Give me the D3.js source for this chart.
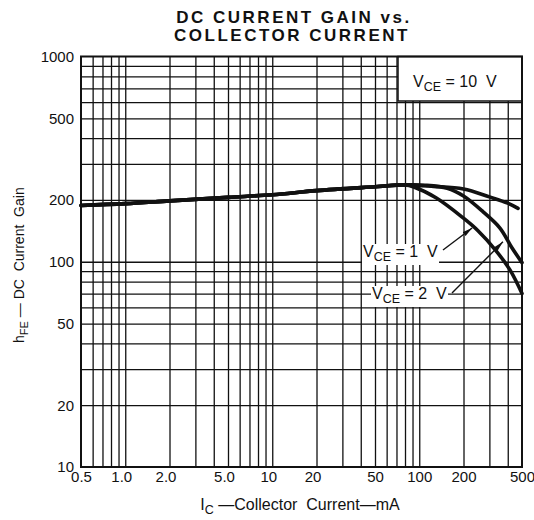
<!DOCTYPE html>
<html>
<head>
<meta charset="utf-8">
<script src="https://cdn.jsdelivr.net/npm/d3@7"></script>
<style>
  body { margin: 0; background: #fff; }
  text { font-family: "Liberation Sans", Arial, sans-serif; fill: #111; white-space: pre; }
</style>
</head>
<body>
<script>
// common part of the curve (all VCE)
var commonI = [0.5, 1, 2, 5, 10, 20, 50, 80];
var commonH = [188, 192, 198, 206, 212, 222, 232, 237];

// branches at high current (start after 80 mA)
var v10I = [125, 200, 300, 400, 470];
var v10H = [233, 226, 207, 193, 182];
var v2I = [110, 155, 200, 272, 354, 427, 500];
var v2H = [236, 228, 209, 175, 146, 117, 99];
var v1I = [91, 130, 200, 250, 330, 415, 500];
var v1H = [232, 205, 163, 142, 114, 91, 70];

var xTicks = [0.5, 1, 2, 5, 10, 20, 50, 100, 200, 500];
var xTickLabels = ["0.5", "1.0", "2.0", "5.0", "10", "20", "50", "100", "200", "500"];
var yTicks = [10, 20, 50, 100, 200, 500, 1000];
var yTickLabels = ["10", "20", "50", "100", "200", "500", "1000"];

var width = 534, height = 520;
var margin = {top: 56.5, bottom: 53, left: 81, right: 12};

var svg = d3.select("body").append("svg")
    .attr("width", width)
    .attr("height", height);

var x = d3.scaleLog()
    .domain([0.5, 500])
    .range([margin.left, width - margin.right]);

var y = d3.scaleLog()
    .domain([10, 1000])
    .range([height - margin.bottom, margin.top]);

// grid values: every 1..9 of each decade
var gridX = [], gridY = [];
[0.1, 1, 10, 100].forEach(function(dec) {
  for (var k = 1; k < 10; k++) {
    var v = +(k * dec).toPrecision(3);
    if (v > 0.5 && v < 500) gridX.push(v);
  }
});
[10, 100].forEach(function(dec) {
  for (var k = 1; k < 10; k++) {
    var v = k * dec;
    if (v > 10 && v < 1000) gridY.push(v);
  }
});

svg.append("g")
    .attr("class", "x-grid")
    .attr("transform", "translate(0," + y.range()[0] + ")")
    .call(d3.axisBottom(x).tickValues(gridX).tickFormat("")
      .tickSizeInner(-(y.range()[0] - y.range()[1])).tickSizeOuter(0))
    .call(function(g) { g.select(".domain").remove(); })
    .selectAll("line").attr("stroke", "#111").attr("stroke-width", 1.3);

svg.append("g")
    .attr("class", "y-grid")
    .attr("transform", "translate(" + x.range()[0] + ",0)")
    .call(d3.axisLeft(y).tickValues(gridY).tickFormat("")
      .tickSizeInner(-(x.range()[1] - x.range()[0])).tickSizeOuter(0))
    .call(function(g) { g.select(".domain").remove(); })
    .selectAll("line").attr("stroke", "#111").attr("stroke-width", 1.3);

// tick labels
var xAxis = svg.append("g")
    .attr("class", "x-axis")
    .attr("transform", "translate(0," + y.range()[0] + ")")
    .call(d3.axisBottom(x).tickValues(xTicks).tickSize(0).tickPadding(4)
      .tickFormat(function(d, i) { return xTickLabels[i]; }));
xAxis.select(".domain").remove();
xAxis.selectAll("text")
    .attr("font-size", 15)
    .attr("font-family", "Liberation Sans, Arial, sans-serif")
    .attr("fill", "#111")
    .attr("dx", function(d) { return (d >= 1 && d <= 20) ? -4 : 0; });

var yAxis = svg.append("g")
    .attr("class", "y-axis")
    .attr("transform", "translate(" + x.range()[0] + ",0)")
    .call(d3.axisLeft(y).tickValues(yTicks).tickSize(0).tickPadding(7)
      .tickFormat(function(d, i) { return yTickLabels[i]; }));
yAxis.select(".domain").remove();
yAxis.selectAll("text")
    .attr("font-size", 15)
    .attr("font-family", "Liberation Sans, Arial, sans-serif")
    .attr("fill", "#111");

// VCE = 10 V box, top right
var boxL = 398, boxB = 101;
svg.append("rect")
    .attr("x", boxL)
    .attr("y", margin.top)
    .attr("width", x.range()[1] - boxL)
    .attr("height", boxB - margin.top)
    .attr("fill", "#fff")
    .attr("stroke", "#111")
    .attr("stroke-width", 1.5);

function vceLabel(g, px, py, value, fs) {
  var t = g.append("text")
      .attr("x", px)
      .attr("y", py)
      .attr("font-size", fs);
  t.append("tspan").text("V");
  t.append("tspan").attr("dy", 4).attr("font-size", fs * 0.78).text("CE");
  t.append("tspan").attr("dy", -4).text(" = " + value + "  V");
  return t;
}

vceLabel(svg, 413, 87, "10", 16);

// plot border
svg.append("rect")
    .attr("x", x.range()[0])
    .attr("y", y.range()[1])
    .attr("width", x.range()[1] - x.range()[0])
    .attr("height", y.range()[0] - y.range()[1])
    .attr("fill", "none")
    .attr("stroke", "#111")
    .attr("stroke-width", 2);

// curves
var line = d3.line()
    .x(function(d) { return x(d[0]); })
    .y(function(d) { return y(d[1]); })
    .curve(d3.curveCatmullRom.alpha(0.5));

function pairs(xs, ys) {
  return xs.map(function(v, i) { return [v, ys[i]]; });
}

var common = pairs(commonI, commonH);
var series = [
  common.concat(pairs(v10I, v10H)),
  common.concat(pairs(v2I, v2H)),
  common.concat(pairs(v1I, v1H))
];

svg.selectAll(".curve")
    .data(series)
  .enter().append("path")
    .attr("class", "curve")
    .attr("d", line)
    .attr("fill", "none")
    .attr("stroke", "#111")
    .attr("stroke-width", 3.6)
    .attr("stroke-linecap", "round");

// labels with arrows
svg.append("defs").append("marker")
    .attr("id", "head")
    .attr("viewBox", "0 0 10 6")
    .attr("refX", 10)
    .attr("refY", 3)
    .attr("markerWidth", 10)
    .attr("markerHeight", 6)
    .attr("markerUnits", "userSpaceOnUse")
    .attr("orient", "auto")
  .append("path")
    .attr("d", "M0,0.6 L10,3 L0,5.4 Z")
    .attr("fill", "#111");

var notes = [
  {value: "1", lx: 363, ly: 257, tail: [443, 250], tip: [229, 146]},
  {value: "2", lx: 372, ly: 299, tail: [452, 293], tip: [371, 125]}
];

notes.forEach(function(n) {
  var g = svg.append("g");
  var bg = g.append("rect").attr("fill", "#fff");
  var t = vceLabel(g, n.lx, n.ly, n.value, 16);
  var b = t.node().getBBox();
  bg.attr("x", b.x - 1).attr("y", b.y + 1)
    .attr("width", b.width + 2).attr("height", b.height);
  svg.append("line")
      .attr("x1", n.tail[0])
      .attr("y1", n.tail[1])
      .attr("x2", x(n.tip[0]))
      .attr("y2", y(n.tip[1]))
      .attr("stroke", "#111")
      .attr("stroke-width", 1.4)
      .attr("marker-end", "url(#head)");
});

// titles
var title = svg.append("text")
    .attr("text-anchor", "middle")
    .attr("font-size", 17)
    .attr("font-weight", "bold")
    .attr("letter-spacing", 2.5);
title.append("tspan").attr("x", 294).attr("y", 23).text("DC CURRENT GAIN vs.");
title.append("tspan").attr("x", 292).attr("y", 41).text("COLLECTOR CURRENT");

var xt = svg.append("text")
    .attr("x", 300)
    .attr("y", 510)
    .attr("text-anchor", "middle")
    .attr("font-size", 16);
xt.append("tspan").text("I");
xt.append("tspan").attr("dy", 4).attr("font-size", 12.5).text("C");
xt.append("tspan").attr("dy", -4).text(" \u2014Collector  Current\u2014mA");

var yt = svg.append("text")
    .attr("transform", "translate(24,343) rotate(-90)")
    .attr("font-size", 14);
yt.append("tspan").text("h");
yt.append("tspan").attr("dy", 4).attr("font-size", 11).text("FE");
yt.append("tspan").attr("dy", -4).text(" \u2014 DC  Current  Gain");
</script>
</body>
</html>
